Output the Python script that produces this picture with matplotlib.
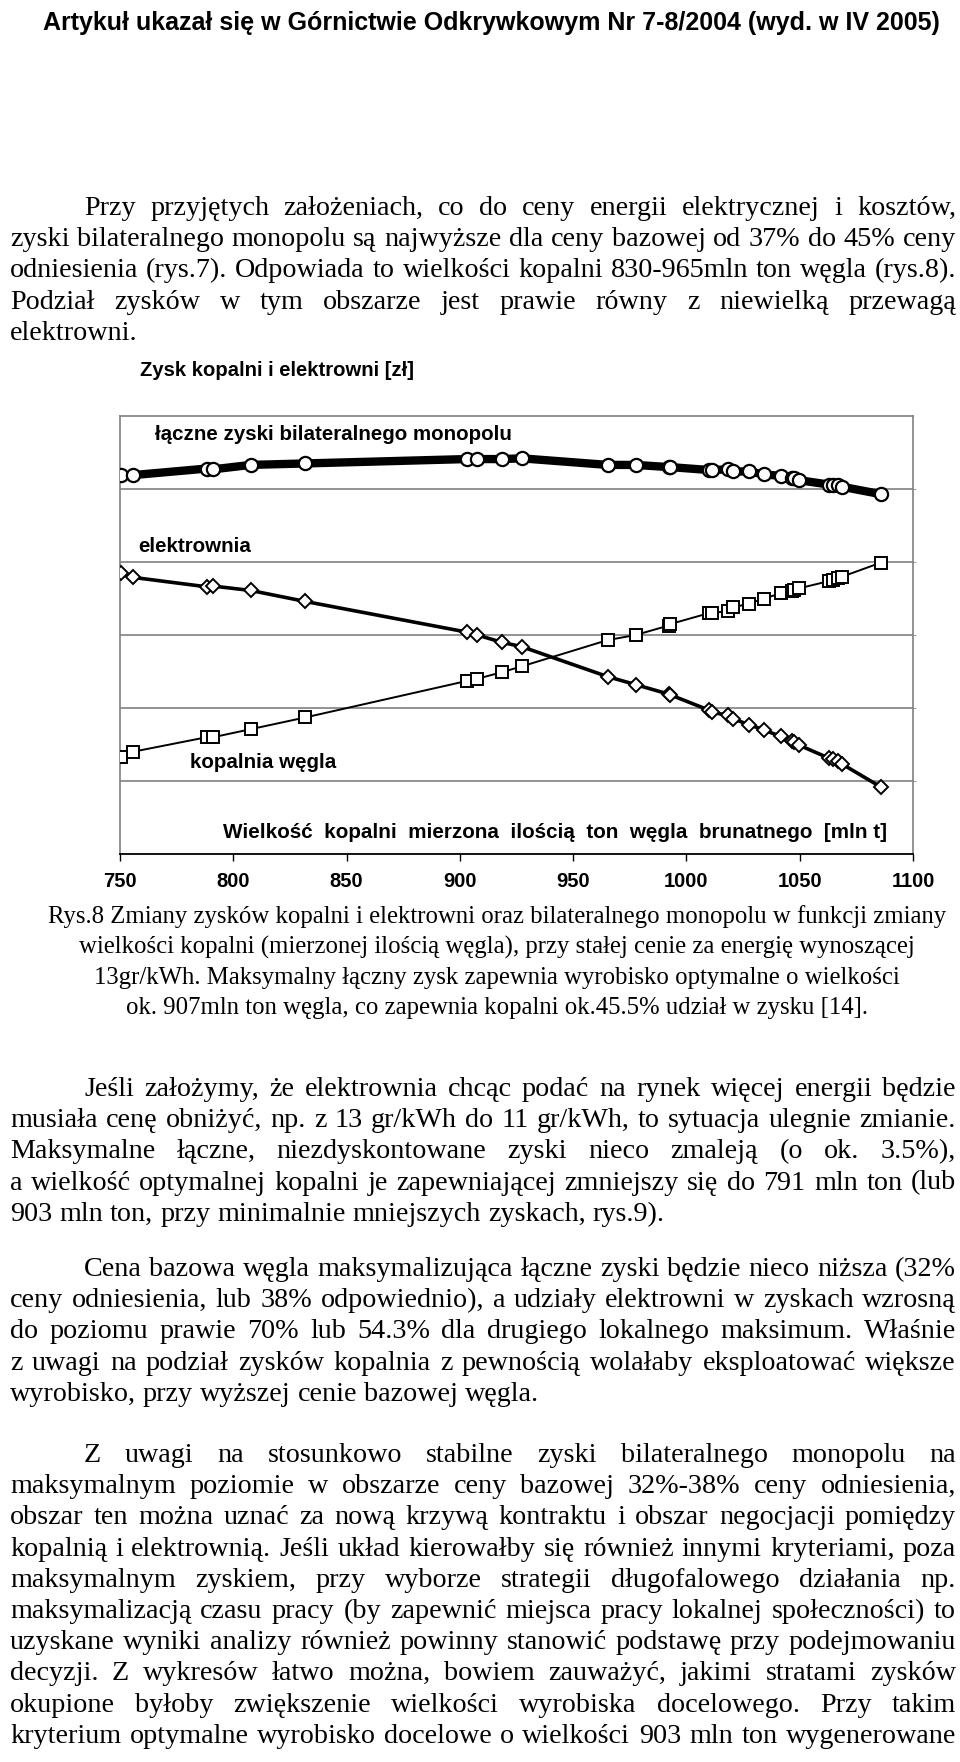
import matplotlib
matplotlib.use("Agg")
import matplotlib.pyplot as plt
from matplotlib import font_manager

W, H = 960, 1762

# wielkosc kopalni [mln t] i zyski (jednostki umowne, os bez opisu)
mine_size = [750.3, 755.6, 788.3, 791.2, 807.7, 831.7, 903.0, 907.7, 918.5, 927.3,
             965.2, 977.6, 992.2, 992.9, 1010.0, 1011.4, 1018.5, 1020.7, 1027.7, 1034.2,
             1041.6, 1046.4, 1047.6, 1049.8, 1063.1, 1064.8, 1067.0, 1068.8, 1085.7]
total_profit = [5.19, 5.19, 5.28, 5.27, 5.33, 5.35, 5.41, 5.41, 5.41, 5.42,
                5.33, 5.33, 5.30, 5.30, 5.26, 5.26, 5.27, 5.24, 5.24, 5.20,
                5.18, 5.15, 5.15, 5.12, 5.06, 5.06, 5.05, 5.03, 4.93]
plant_profit = [3.85, 3.79, 3.66, 3.67, 3.61, 3.46, 3.04, 3.00, 2.90, 2.84,
                2.43, 2.32, 2.19, 2.18, 1.97, 1.94, 1.90, 1.85, 1.77, 1.70,
                1.61, 1.55, 1.53, 1.49, 1.31, 1.30, 1.27, 1.23, 0.92]
mine_profit = [1.33, 1.40, 1.60, 1.60, 1.71, 1.87, 2.37, 2.40, 2.49, 2.57,
               2.93, 3.00, 3.13, 3.15, 3.30, 3.30, 3.33, 3.38, 3.43, 3.50,
               3.57, 3.60, 3.61, 3.64, 3.74, 3.75, 3.78, 3.80, 3.99]
x_ticks = [750, 800, 850, 900, 950, 1000, 1050, 1100]

header = "Artykuł ukazał się w Górnictwie Odkrywkowym Nr 7-8/2004 (wyd. w IV 2005)"
para1 = ["Przy przyjętych założeniach, co do ceny energii elektrycznej i kosztów,",
         "zyski bilateralnego monopolu są najwyższe dla ceny bazowej od 37% do 45% ceny",
         "odniesienia (rys.7). Odpowiada to wielkości kopalni 830-965mln ton węgla (rys.8).",
         "Podział zysków w tym obszarze jest prawie równy z niewielką przewagą",
         "elektrowni."]
caption = ["Rys.8 Zmiany zysków kopalni i elektrowni oraz bilateralnego monopolu w funkcji zmiany",
           "wielkości kopalni (mierzonej ilością węgla), przy stałej cenie za energię wynoszącej",
           "13gr/kWh. Maksymalny łączny zysk zapewnia wyrobisko optymalne o wielkości",
           "ok. 907mln ton węgla, co zapewnia kopalni ok.45.5% udział w zysku [14]."]
para2 = ["Jeśli założymy, że elektrownia chcąc podać na rynek więcej energii będzie",
         "musiała cenę obniżyć, np. z 13 gr/kWh do 11 gr/kWh, to sytuacja ulegnie zmianie.",
         "Maksymalne łączne, niezdyskontowane zyski nieco zmaleją (o ok. 3.5%),",
         "a wielkość optymalnej kopalni je zapewniającej zmniejszy się do 791 mln ton (lub",
         "903 mln ton, przy minimalnie mniejszych zyskach, rys.9)."]
para3 = ["Cena bazowa węgla maksymalizująca łączne zyski będzie nieco niższa (32%",
         "ceny odniesienia, lub 38% odpowiednio), a udziały elektrowni w zyskach wzrosną",
         "do poziomu prawie 70% lub 54.3% dla drugiego lokalnego maksimum. Właśnie",
         "z uwagi na podział zysków kopalnia z pewnością wolałaby eksploatować większe",
         "wyrobisko, przy wyższej cenie bazowej węgla."]
para4 = ["Z uwagi na stosunkowo stabilne zyski bilateralnego monopolu na",
         "maksymalnym poziomie w obszarze ceny bazowej 32%-38% ceny odniesienia,",
         "obszar ten można uznać za nową krzywą kontraktu i obszar negocjacji pomiędzy",
         "kopalnią i elektrownią. Jeśli układ kierowałby się również innymi kryteriami, poza",
         "maksymalnym zyskiem, przy wyborze strategii długofalowego działania np.",
         "maksymalizacją czasu pracy (by zapewnić miejsca pracy lokalnej społeczności) to",
         "uzyskane wyniki analizy również powinny stanowić podstawę przy podejmowaniu",
         "decyzji. Z wykresów łatwo można, bowiem zauważyć, jakimi stratami zysków",
         "okupione byłoby zwiększenie wielkości wyrobiska docelowego. Przy takim",
         "kryterium optymalne wyrobisko docelowe o wielkości 903 mln ton wygenerowane"]

SERIF = "Liberation Serif"
SANS = "Liberation Sans"
names = {f.name for f in font_manager.fontManager.ttflist}
NARROW = "Liberation Sans Narrow" if "Liberation Sans Narrow" in names else SANS

LEFT, RIGHT, INDENT = 10, 956, 74

fig = plt.figure(figsize=(W / 100, H / 100), dpi=100)
fig.patch.set_facecolor("white")
renderer = fig.canvas.get_renderer()


def fx(x):
    return x / W


def fy(y):
    return 1 - y / H


def width_of(t):
    return t.get_window_extent(renderer).width


def natural_width(s, size, **kw):
    t = fig.text(0, 0, s, fontsize=size, **kw)
    w = width_of(t)
    t.remove()
    return w


def fit_text(x, y, s, target_w, **kw):
    # dobiera rozmiar czcionki tak, by tekst mial zadana szerokosc
    t = fig.text(fx(x), fy(y), s, **kw)
    size = t.get_fontsize()
    t.set_fontsize(size * target_w / width_of(t))
    return t


# rozmiar tekstu akapitow: najszerszy wiersz ma zmiescic sie ze zwyklymi odstepami
all_paras = [para1, para2, para3, para4]
ratios = []
for p in all_paras:
    for i, line in enumerate(p):
        avail = RIGHT - LEFT - (INDENT if i == 0 else 0) - 4
        ratios.append(avail / natural_width(line, 18.0, family=SERIF))
BODY = 18.0 * min(ratios)

space = natural_width("a a", BODY, family=SERIF) - natural_width("aa", BODY, family=SERIF)


def paragraph(lines, y0, step, justify_last=False):
    for i, line in enumerate(lines):
        y = y0 + i * step
        x0 = LEFT + (INDENT if i == 0 else 0)
        words = line.split(" ")
        ts = [fig.text(0, fy(y), w, fontsize=BODY, family=SERIF, va="baseline") for w in words]
        ws = [width_of(t) for t in ts]
        last = i == len(lines) - 1 and not justify_last
        if not last and len(ws) > 1:
            gap = (RIGHT - x0 - sum(ws)) / (len(ws) - 1)
        else:
            gap = space
        x = x0
        for t, w in zip(ts, ws):
            t.set_x(fx(x))
            x += w + gap


# naglowek
fit_text(43, 30, header, 897, family=NARROW, fontweight="bold", fontsize=18, va="baseline")

paragraph(para1, 215, 31.2)

# wykres
ax = fig.add_axes([fx(120), fy(854), (913 - 120) / W, (854 - 416) / H])
ax.plot(mine_size, total_profit, "-o", color="black", lw=6, ms=9.5,
        mfc="white", mec="black", mew=1.6, zorder=3)
ax.plot(mine_size, plant_profit, "-D", color="black", lw=2.6, ms=7.5,
        mfc="white", mec="black", mew=1.4, zorder=4)
ax.plot(mine_size, mine_profit, "-s", color="black", lw=1.4, ms=9,
        mfc="white", mec="black", mew=1.4, zorder=5)
ax.set_xlim(750, 1100)
ax.set_ylim(0, 6)
ax.set_yticks(range(1, 6))
ax.yaxis.grid(True, color="#808080", lw=1.2)
ax.set_axisbelow(True)
ax.tick_params(axis="y", left=False, right=True, length=2, color="#a0a0a0", labelleft=False)
ax.set_xticks(x_ticks)
ax.set_xticklabels([str(v) for v in x_ticks], fontsize=14.5, fontweight="bold", family=SANS)
ax.tick_params(axis="x", direction="out", length=5, width=1, pad=8)
for side in ["left", "top", "right"]:
    ax.spines[side].set_color("#808080")
    ax.spines[side].set_linewidth(1.2)
ax.spines["bottom"].set_color("black")
ax.spines["bottom"].set_linewidth(1.3)

fit_text(140, 371, "Zysk kopalni i elektrowni [zł]", 275, family=NARROW,
         fontweight="bold", fontsize=14, va="center")
fig.text(fx(155), fy(435), "łączne zyski bilateralnego monopolu", family=SANS,
         fontweight="bold", fontsize=14.8, va="center")
fig.text(fx(138), fy(547), "elektrownia", family=SANS, fontweight="bold", fontsize=14.8, va="center")
fig.text(fx(190), fy(762), "kopalnia węgla", family=SANS, fontweight="bold", fontsize=14.8, va="center")
fit_text(223, 833, "Wielkość  kopalni  mierzona  ilością  ton  węgla  brunatnego  [mln t]",
         660, family=SANS, fontweight="bold", fontsize=13, va="center")

# podpis rysunku
CAP = 18.0 * 896 / natural_width(caption[0], 18.0, family=SERIF)
for i, line in enumerate(caption):
    fig.text(fx(497), fy(923 + i * 30.5), line, family=SERIF, fontsize=CAP,
             ha="center", va="baseline")

paragraph(para2, 1096, 31.2)
paragraph(para3, 1276, 31.2)
paragraph(para4, 1462, 31.2, justify_last=True)

fig.savefig("out.png", dpi=100, facecolor="white")
